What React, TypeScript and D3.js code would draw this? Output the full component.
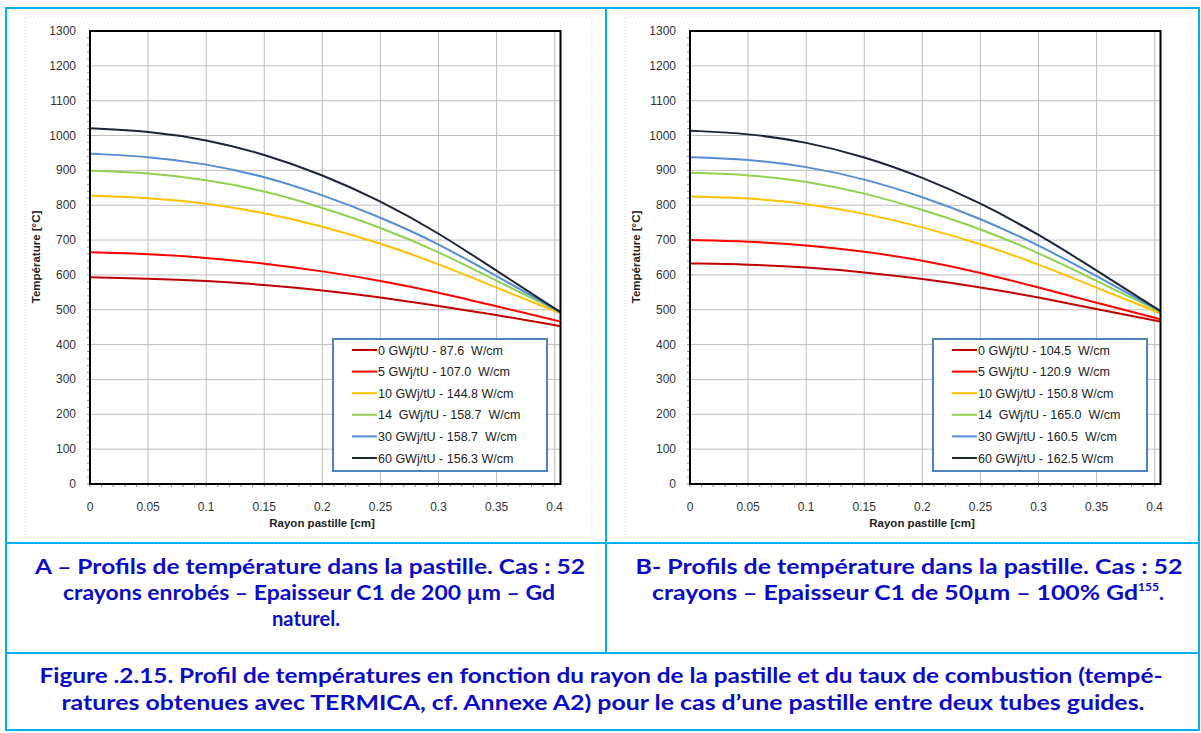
import React, { useEffect, useRef } from 'react';
import * as d3 from 'd3';

// radius [cm]
const radius = [0, 0.05, 0.1, 0.15, 0.2, 0.25, 0.3, 0.35, 0.405];

// Case A - 52 crayons enrobés, C1 200 µm, Gd naturel
const tempA0 = [593, 590, 583, 572, 556, 536, 511, 485, 453];
const tempA5 = [665, 660, 650, 633, 611, 584, 550, 510, 466];
const tempA10 = [827, 822, 806, 779, 740, 691, 632, 563, 490];
const tempA14 = [899, 893, 874, 842, 793, 737, 667, 583, 493];
const tempA30 = [948, 940, 919, 883, 830, 766, 690, 597, 493];
const tempA60 = [1021, 1013, 989, 947, 888, 813, 721, 612, 493];

// Case B - 52 crayons, C1 50 µm, 100% Gd155
const tempB0 = [633, 630, 622, 608, 589, 565, 536, 502, 466];
const tempB5 = [700, 696, 686, 668, 642, 607, 564, 520, 473];
const tempB10 = [825, 821, 805, 777, 738, 690, 631, 563, 490];
const tempB14 = [893, 888, 869, 836, 787, 733, 664, 583, 494];
const tempB30 = [938, 932, 912, 876, 825, 762, 686, 597, 496];
const tempB60 = [1014, 1006, 982, 940, 881, 807, 717, 613, 496];

const labelsA = [
  '0 GWj/tU - 87.6  W/cm',
  '5 GWj/tU - 107.0  W/cm',
  '10 GWj/tU - 144.8 W/cm',
  '14  GWj/tU - 158.7  W/cm',
  '30 GWj/tU - 158.7  W/cm',
  '60 GWj/tU - 156.3 W/cm',
];
const labelsB = [
  '0 GWj/tU - 104.5  W/cm',
  '5 GWj/tU - 120.9  W/cm',
  '10 GWj/tU - 150.8 W/cm',
  '14  GWj/tU - 165.0  W/cm',
  '30 GWj/tU - 160.5  W/cm',
  '60 GWj/tU - 162.5 W/cm',
];

const xTicks = [0, 0.05, 0.1, 0.15, 0.2, 0.25, 0.3, 0.35, 0.4];
const xTickLabels = ['0', '0.05', '0.1', '0.15', '0.2', '0.25', '0.3', '0.35', '0.4'];
const yTicks = [0, 100, 200, 300, 400, 500, 600, 700, 800, 900, 1000, 1100, 1200, 1300];

const colors = ['#C00000', '#FF0000', '#FFC000', '#92D050', '#558ED5', '#1C2437'];

const captionBlue = '#0B0BC8';
const frameBlue = '#00B0F0';
const chartFont = "'Liberation Sans', Arial, sans-serif";
const captionFont = "Lato, 'Open Sans', sans-serif";

type Svg = d3.Selection<SVGSVGElement, unknown, null, undefined>;

function drawPanel(svg: Svg, offsetX: number, series: number[][], labels: string[]) {
  const left = 90 + offsetX;
  const right = 560.5 + offsetX;
  const top = 31;
  const bottom = 484;

  const x = d3.scaleLinear().domain([0, 0.405]).range([left, right]);
  const y = d3.scaleLinear().domain([0, 1300]).range([bottom, top]);

  const g = svg.append('g');

  // chart area (dotted)
  g.append('rect')
    .attr('x', 25 + offsetX)
    .attr('y', 17)
    .attr('width', 567)
    .attr('height', 520)
    .attr('fill', 'none')
    .attr('stroke', '#DADADA')
    .attr('stroke-dasharray', '1 2');

  // gridlines
  g.selectAll('.hgrid')
    .data(yTicks)
    .enter()
    .append('line')
    .attr('x1', left)
    .attr('x2', right)
    .attr('y1', (d) => y(d))
    .attr('y2', (d) => y(d))
    .attr('stroke', '#BDBDBD')
    .attr('stroke-width', 1);

  g.selectAll('.vgrid')
    .data(xTicks.slice(1))
    .enter()
    .append('line')
    .attr('x1', (d) => x(d))
    .attr('x2', (d) => x(d))
    .attr('y1', top)
    .attr('y2', bottom)
    .attr('stroke', '#BDBDBD')
    .attr('stroke-width', 1);

  // minor ticks
  g.selectAll('.ymin')
    .data(d3.range(0, 1300, 20))
    .enter()
    .append('line')
    .attr('x1', left - 3)
    .attr('x2', left + 1)
    .attr('y1', (d) => y(d))
    .attr('y2', (d) => y(d))
    .attr('stroke', '#909090');

  g.selectAll('.xmin')
    .data(d3.range(0, 0.405, 0.01))
    .enter()
    .append('line')
    .attr('x1', (d) => x(d))
    .attr('x2', (d) => x(d))
    .attr('y1', bottom - 1)
    .attr('y2', bottom + 3)
    .attr('stroke', '#909090');

  // curves
  const line = d3
    .line<number>()
    .x((_, i) => x(radius[i]))
    .y((d) => y(d))
    .curve(d3.curveBasis);

  series.forEach((s, i) => {
    g.append('path')
      .datum(s)
      .attr('d', line)
      .attr('fill', 'none')
      .attr('stroke', colors[i])
      .attr('stroke-width', 2);
  });

  // plot frame
  g.append('rect')
    .attr('x', left)
    .attr('y', top)
    .attr('width', right - left)
    .attr('height', bottom - top)
    .attr('fill', 'none')
    .attr('stroke', '#000')
    .attr('stroke-width', 2);

  // tick labels
  g.selectAll('.ylab')
    .data(yTicks)
    .enter()
    .append('text')
    .attr('x', left - 14)
    .attr('y', (d) => y(d) + 4)
    .attr('text-anchor', 'end')
    .attr('font-family', chartFont)
    .attr('font-size', 12)
    .attr('fill', '#333')
    .text((d) => String(d));

  g.selectAll('.xlab')
    .data(xTicks)
    .enter()
    .append('text')
    .attr('x', (d) => x(d))
    .attr('y', 511)
    .attr('text-anchor', 'middle')
    .attr('font-family', chartFont)
    .attr('font-size', 12)
    .attr('fill', '#333')
    .text((_, i) => xTickLabels[i]);

  // axis titles
  g.append('text')
    .attr('transform', `translate(${40 + offsetX},257) rotate(-90)`)
    .attr('text-anchor', 'middle')
    .attr('font-family', chartFont)
    .attr('font-size', 11.5)
    .attr('font-weight', 'bold')
    .attr('fill', '#222')
    .text('Température [°C]');

  g.append('text')
    .attr('x', 322 + offsetX)
    .attr('y', 527)
    .attr('text-anchor', 'middle')
    .attr('font-family', chartFont)
    .attr('font-size', 11.5)
    .attr('font-weight', 'bold')
    .attr('fill', '#222')
    .text('Rayon pastille [cm]');

  // legend
  const lx = 333 + offsetX;
  const ly = 339;
  g.append('rect')
    .attr('x', lx)
    .attr('y', ly)
    .attr('width', 214)
    .attr('height', 132)
    .attr('fill', '#fff')
    .attr('stroke', '#4F81BD')
    .attr('stroke-width', 2);

  labels.forEach((lab, i) => {
    const yy = ly + 11 + i * 21.6;
    g.append('line')
      .attr('x1', lx + 19)
      .attr('x2', lx + 44)
      .attr('y1', yy)
      .attr('y2', yy)
      .attr('stroke', colors[i])
      .attr('stroke-width', 2);
    g.append('text')
      .attr('x', lx + 45)
      .attr('y', yy + 4.5)
      .attr('xml:space', 'preserve')
      .attr('font-family', chartFont)
      .attr('font-size', 12.5)
      .attr('fill', '#222')
      .style('white-space', 'pre')
      .text(lab);
  });
}

const App: React.FC = () => {
  const ref = useRef<SVGSVGElement | null>(null);

  useEffect(() => {
    if (!ref.current) return;
    const svg = d3.select(ref.current);
    svg.selectAll('*').remove();

    drawPanel(svg, 0, [tempA0, tempA5, tempA10, tempA14, tempA30, tempA60], labelsA);
    drawPanel(svg, 600, [tempB0, tempB5, tempB10, tempB14, tempB30, tempB60], labelsB);

    // frame of the figure table
    const frame = svg.append('g').attr('stroke', frameBlue).attr('stroke-width', 2).attr('fill', 'none');
    frame.append('rect').attr('x', 6).attr('y', 8).attr('width', 1193).attr('height', 722);
    frame.append('line').attr('x1', 606).attr('x2', 606).attr('y1', 8).attr('y2', 653);
    frame.append('line').attr('x1', 6).attr('x2', 1199).attr('y1', 543).attr('y2', 543);
    frame.append('line').attr('x1', 6).attr('x2', 1199).attr('y1', 653).attr('y2', 653);

    // captions
    const cap = svg
      .append('g')
      .attr('font-family', captionFont)
      .attr('font-weight', 'bold')
      .attr('font-size', 21)
      .attr('fill', captionBlue)
      .attr('text-anchor', 'middle');

    const capLines: [number, number, string, number][] = [
      [310, 574, 'A – Profils de température dans la pastille. Cas : 52', 550],
      [309, 600, 'crayons enrobés – Epaisseur C1 de 200 µm – Gd', 492],
      [306, 626, 'naturel.', 68],
      [909, 574, 'B- Profils de température dans la pastille. Cas : 52', 547],
      [601, 683, 'Figure .2.15. Profil de températures en fonction du rayon de la pastille et du taux de combustion (tempé-', 1123],
      [603, 710, 'ratures obtenues avec TERMICA, cf. Annexe A2) pour le cas d’une pastille entre deux tubes guides.', 1083],
    ];
    capLines.forEach(([cx, cy, t, len]) => {
      cap.append('text')
        .attr('x', cx)
        .attr('y', cy)
        .attr('textLength', len)
        .attr('lengthAdjust', 'spacingAndGlyphs')
        .text(t);
    });

    const bLine = cap.append('text').attr('x', 652).attr('y', 600).attr('text-anchor', 'start');
    bLine
      .append('tspan')
      .attr('textLength', 486)
      .attr('lengthAdjust', 'spacingAndGlyphs')
      .text('crayons – Epaisseur C1 de 50µm – 100% Gd');
    bLine.append('tspan').attr('font-size', 12).attr('dy', -9).text('155');
    bLine.append('tspan').attr('dy', 9).text('.');
  }, []);

  return (
    <svg
      ref={ref}
      width={1201}
      height={733}
      style={{ position: 'absolute', left: 0, top: 0, background: '#fff' }}
    />
  );
};

export default App;
